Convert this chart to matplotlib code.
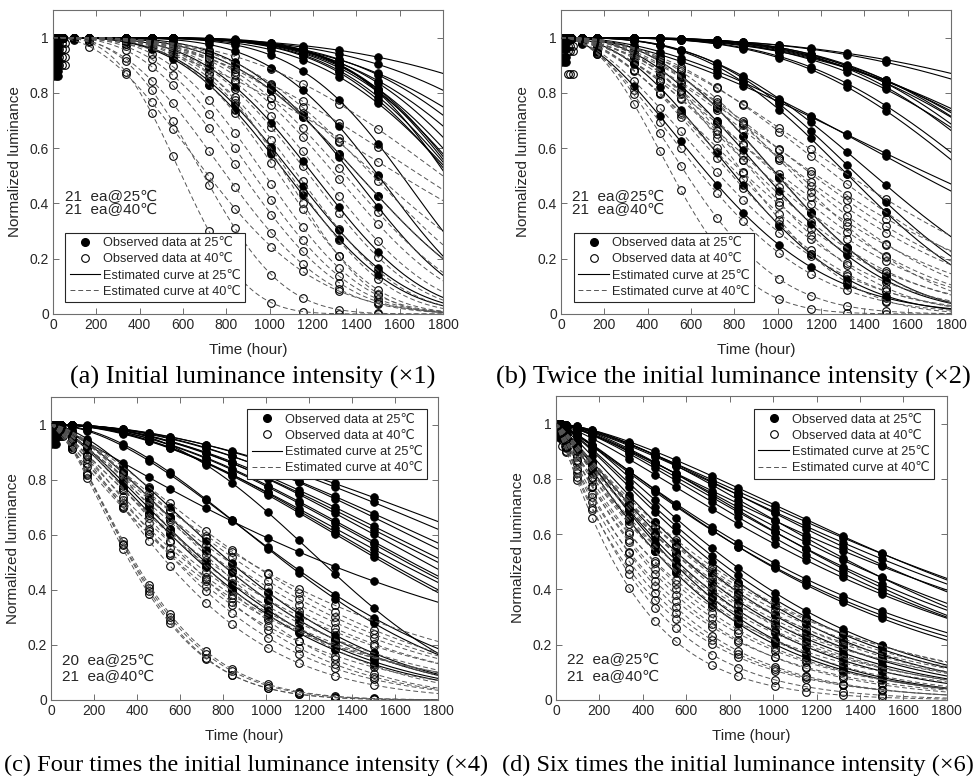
import numpy as np
import matplotlib.pyplot as plt
from matplotlib.lines import Line2D

# measurement times (hour)
times_obs = [0, 24, 48, 96, 168, 336, 456, 552, 720, 840, 1008, 1152, 1320, 1500]
early_t = [0, 12, 24]

# Estimated degradation curves L(t) = exp(-(t/eta)^beta), one (eta, beta) per unit
# (a) x1
eta_a_25 = [3164, 2655, 2456, 2304, 2225, 2115, 2059, 2032, 1999, 1987, 1995,
            2004, 1971, 1931, 1734, 1630, 1571, 1520, 1339, 1249, 1216]
beta_a_25 = [3.5, 4.0, 4.0, 4.5, 4.5, 5.0, 5.0, 5.0, 5.5, 5.5, 5.0,
             4.5, 5.0, 6.0, 5.0, 4.5, 3.5, 4.0, 3.5, 3.2, 3.2]
eta_a_40 = [675, 855, 794, 929, 1897, 1969, 2033, 1691, 1640, 1571, 1500,
            1452, 1381, 1316, 1258, 1219, 1163, 1100, 1050, 1000, 1180]
beta_a_40 = [2.9, 2.1, 2.8, 2.5, 2.2, 2.5, 3.0, 3.0, 3.5, 3.5, 3.5,
             3.5, 3.5, 3.5, 3.5, 3.5, 3.5, 3.2, 3.0, 2.8, 4.0]
early_a_25 = [0.86, 0.88, 0.90, 0.92, 0.94, 0.96, 0.98]
early_a_40 = [0.90, 0.93, 0.96, 0.98]

# (b) x2
eta_b_25 = [3644, 3300, 2700, 2600, 2500, 2450, 2400, 2350, 2300, 2250, 2150,
            2100, 2105, 2000, 1651, 1550, 1500, 1153, 1100, 839, 950]
beta_b_25 = [2.8, 3.0, 3.0, 3.2, 3.5, 3.5, 3.8, 3.5, 4.0, 4.0, 3.5,
             3.5, 1.8, 2.0, 2.8, 3.0, 3.0, 2.6, 2.4, 1.8, 2.2]
eta_b_40 = [612, 700, 800, 900, 950, 1000, 1050, 1100, 1150, 1200, 1250,
            1300, 1350, 1400, 1450, 1500, 1600, 1250, 1150, 1050, 980]
beta_b_40 = [2.16, 2.0, 1.8, 1.8, 2.0, 1.9, 1.8, 2.0, 1.9, 2.0, 1.8,
             2.2, 1.9, 2.0, 1.8, 2.2, 2.0, 2.5, 2.6, 2.4, 2.6]
early_b_25 = [0.91, 0.93, 0.96, 0.98]
early_b_40 = [0.87, 0.95, 0.97]

# (c) x4
eta_c_25 = [2792, 2603, 2401, 2293, 2210, 2162, 2071, 2014, 1987, 1959, 1881,
            1855, 1449, 1746, 1350, 1320, 1050, 1000, 932, 900]
beta_c_25 = [1.9, 2.0, 2.0, 2.1, 2.0, 2.0, 2.1, 2.0, 2.0, 1.9, 2.0,
             2.0, 2.64, 1.15, 1.8, 1.9, 1.6, 1.5, 1.42, 1.4]
eta_c_40 = [490, 480, 500, 470, 846, 800, 870, 900, 950, 1000, 1050,
            1100, 1150, 1200, 1000, 950, 880, 820, 760, 700, 1250]
beta_c_40 = [1.5, 1.55, 1.5, 1.5, 1.1, 1.2, 1.15, 1.2, 1.25, 1.2, 1.3,
             1.3, 1.35, 1.4, 1.5, 1.6, 1.6, 1.5, 1.4, 1.4, 1.2]
early_c_25 = [0.93, 0.95, 0.97]
early_c_40 = [0.96, 0.98]

# (d) x6
eta_d_25 = [2072, 2032, 1991, 1917, 1879, 1738, 1705, 1656, 1609, 1576, 1547,
            1305, 1350, 1280, 1050, 1000, 950, 880, 820, 760, 720, 680]
beta_d_25 = [1.4, 1.5, 1.4, 1.3, 1.5, 1.4, 1.6, 1.4, 1.5, 1.4, 1.3,
             1.2, 1.2, 1.25, 1.35, 1.3, 1.3, 1.25, 1.2, 1.2, 1.25, 1.2]
eta_d_40 = [370, 420, 450, 480, 510, 540, 570, 600, 630, 660, 690,
            720, 750, 780, 800, 830, 860, 880, 910, 940, 960]
beta_d_40 = [1.1, 1.1, 1.0, 1.05, 1.1, 1.0, 1.1, 1.05, 1.1, 1.0, 1.15,
             1.05, 1.1, 1.0, 1.2, 1.1, 1.05, 1.15, 1.1, 1.05, 1.1]
early_d_25 = [0.95, 0.97, 0.99]
early_d_40 = [0.92, 0.94, 0.97]

n_units = {
    'a': (21, 21), 'b': (21, 21), 'c': (20, 21), 'd': (22, 21),
}
captions = {
    'a': '(a) Initial luminance intensity (\u00d71)',
    'b': '(b) Twice the initial luminance intensity (\u00d72)',
    'c': '(c) Four times the initial luminance intensity (\u00d74)',
    'd': '(d) Six times the initial luminance intensity (\u00d76)',
}

panels = {
    'a': (eta_a_25, beta_a_25, eta_a_40, beta_a_40, early_a_25, early_a_40),
    'b': (eta_b_25, beta_b_25, eta_b_40, beta_b_40, early_b_25, early_b_40),
    'c': (eta_c_25, beta_c_25, eta_c_40, beta_c_40, early_c_25, early_c_40),
    'd': (eta_d_25, beta_d_25, eta_d_40, beta_d_40, early_d_25, early_d_40),
}

# layout (figure fractions)
axes_pos = {
    'a': [0.0544, 0.5959, 0.4004, 0.3913],
    'b': [0.5760, 0.5959, 0.4004, 0.3913],
    'c': [0.0524, 0.0991, 0.3973, 0.3900],
    'd': [0.5708, 0.0991, 0.4014, 0.3913],
}
caption_xy = {'a': (0.259, 0.5148, 19), 'b': (0.753, 0.5148, 19),
              'c': (0.253, 0.0154, 17.6), 'd': (0.758, 0.0154, 17.6)}
note_xy = {'a': (0.031, 0.385, 0.342), 'b': (0.028, 0.385, 0.342),
           'c': (0.028, 0.129, 0.076), 'd': (0.028, 0.132, 0.076)}
legend_loc = {'a': ('lower left', (0.031, 0.039)), 'b': ('lower left', (0.033, 0.039)),
              'c': ('upper right', (0.972, 0.960)), 'd': ('upper right', (0.967, 0.957))}

sans = ['Liberation Sans', 'DejaVu Sans']
serif = ['Liberation Serif', 'DejaVu Serif']
frame_col = '#6e6e6e'
text_col = '#262626'
dash_col = '#555555'

t = np.linspace(0, 1800, 361)
tobs = np.array(times_obs, dtype=float)

fig = plt.figure(figsize=(9.74, 7.77), dpi=100)

for key, (e25, b25, e40, b40, ear25, ear40) in panels.items():
    ax = fig.add_axes(axes_pos[key])

    # observed data
    for eta, beta in zip(e25, b25):
        ax.plot(tobs, np.exp(-(tobs / eta) ** beta), 'o', ms=5.5, mfc='black',
                mec='black', mew=0.6, zorder=2)
    for eta, beta in zip(e40, b40):
        ax.plot(tobs, np.exp(-(tobs / eta) ** beta), 'o', ms=5.5, mfc='none',
                mec='black', mew=0.8, zorder=2)
    for tt in early_t:
        ax.plot([tt] * len(ear25), ear25, 'o', ms=5.5, mfc='black', mec='black', mew=0.6, zorder=2)
        ax.plot([tt + 30] * len(ear40), ear40, 'o', ms=5.5, mfc='none', mec='black', mew=0.8, zorder=2)

    # estimated curves
    for eta, beta in zip(e25, b25):
        ax.plot(t, np.exp(-(t / eta) ** beta), '-', color='black', lw=0.8, zorder=3)
    for eta, beta in zip(e40, b40):
        ax.plot(t, np.exp(-(t / eta) ** beta), color=dash_col, lw=0.7,
                dashes=(5, 3), zorder=3)

    ax.set_xlim(0, 1800)
    ax.set_ylim(0, 1.1)
    ax.set_xticks(range(0, 1801, 200))
    ax.set_yticks([0, 0.2, 0.4, 0.6, 0.8, 1.0])
    ax.set_yticklabels(['0', '0.2', '0.4', '0.6', '0.8', '1'])
    ax.tick_params(direction='in', top=True, right=True, length=4, width=0.7,
                   color=frame_col, labelcolor=text_col, labelsize=10, pad=3)
    for lab in ax.get_xticklabels() + ax.get_yticklabels():
        lab.set_family(sans)
    for sp in ax.spines.values():
        sp.set_color(frame_col)
        sp.set_linewidth(0.8)

    ax.set_xlabel('Time (hour)', fontsize=11, color=text_col, family=sans)
    ax.set_ylabel('Normalized luminance', fontsize=11, color=text_col, family=sans)
    ax.xaxis.set_label_coords(0.5, -0.097)
    ax.yaxis.set_label_coords(-0.080, 0.5)

    n25, n40 = n_units[key]
    nx, ny1, ny2 = note_xy[key]
    ax.text(nx, ny1, f'{n25}  ea@25\u2103', transform=ax.transAxes, fontsize=11,
            color=text_col, va='center', ha='left', family=sans)
    ax.text(nx, ny2, f'{n40}  ea@40\u2103', transform=ax.transAxes, fontsize=11,
            color=text_col, va='center', ha='left', family=sans)

    handles = [
        Line2D([], [], ls='none', marker='o', ms=5.5, mfc='black', mec='black'),
        Line2D([], [], ls='none', marker='o', ms=5.5, mfc='none', mec='black', mew=0.8),
        Line2D([], [], ls='-', color='black', lw=0.8),
        Line2D([], [], color=dash_col, lw=0.7, dashes=(5, 3)),
    ]
    labels = ['Observed data at 25\u2103', 'Observed data at 40\u2103',
              'Estimated curve at 25\u2103', 'Estimated curve at 40\u2103']
    loc, anchor = legend_loc[key]
    leg = ax.legend(handles, labels, loc=loc, bbox_to_anchor=anchor, borderaxespad=0,
                    prop={'family': sans, 'size': 9.2}, handlelength=2.4,
                    handletextpad=0.2, labelspacing=0.33, borderpad=0.35,
                    fancybox=False, framealpha=1, edgecolor='#262626')
    leg.get_frame().set_linewidth(0.8)
    for txt in leg.get_texts():
        txt.set_color(text_col)

    cx, cy, cs = caption_xy[key]
    fig.text(cx, cy, captions[key], ha='center', va='center', fontsize=cs,
             family=serif, color='black')

fig.savefig('out.png', dpi=100)
